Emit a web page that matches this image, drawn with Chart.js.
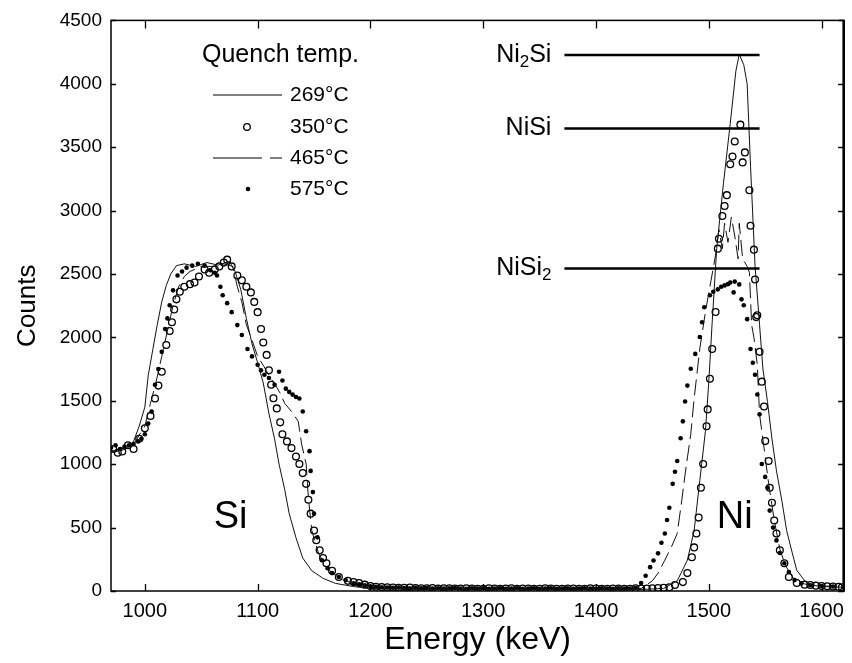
<!DOCTYPE html>
<html>
<head>
<meta charset="utf-8">
<script src="https://cdn.jsdelivr.net/npm/chart.js@4.4.1/dist/chart.umd.min.js"></script>
<style>
  body { margin: 0; background: #fff; }
  #wrap { width: 852px; height: 663px; }
</style>
</head>
<body>
<div id="wrap"><canvas id="rbs" width="852" height="663"></canvas></div>
<script>
// RBS spectra, [energy keV, counts]
const t269 = [
  [970,1110],[975,1100],[980,1120],[985,1130],[990,1180],[995,1300],[1000,1450],[1003,1700],[1007,1900],
  [1011,2100],[1015,2280],[1019,2410],[1023,2500],[1028,2566],[1035,2580],[1045,2560],[1055,2590],
  [1065,2570],[1075,2600],[1080,2520],[1085,2380],[1090,2150],[1095,1950],[1100,1800],[1105,1640],
  [1110,1400],[1115,1200],[1119,1000],[1124,800],[1128,610],[1134,420],[1140,260],[1148,160],[1158,100],
  [1169,60],[1185,35],[1200,20],[1250,15],[1300,12],[1350,12],[1400,12],[1440,12],[1460,20],[1472,80],
  [1481,243],[1487,477],[1492,869],[1497,1260],[1500,1650],[1503,2120],[1507,2700],[1513,3216],
  [1519,3685],[1524,4100],[1527,4233],[1531,4150],[1534,4000],[1537,3350],[1541,2566],[1545,2100],
  [1548,1750],[1552,1495],[1556,1200],[1560,947],[1565,700],[1569,477],[1574,300],[1578,164],
  [1585,80],[1591,47],[1600,35],[1620,30]
];

const t350 = [
  [972,1120],[976,1090],[980,1100],[985,1150],[990,1120],[995,1200],[1000,1283],[1005,1380],[1009,1518],
  [1012,1620],[1015,1729],[1019,1940],[1022,2050],[1024,2120],[1026,2220],[1028,2300],[1031,2360],
  [1035,2400],[1040,2420],[1044,2433],[1048,2480],[1053,2535],[1057,2510],[1062,2535],[1066,2560],
  [1070,2590],[1073,2613],[1077,2560],[1082,2488],[1086,2450],[1090,2400],[1094,2355],[1097,2280],
  [1100,2199],[1103,2066],[1105,1960],[1108,1862],[1110,1740],[1112,1627],[1114,1520],[1117,1440],
  [1120,1330],[1122,1236],[1126,1180],[1130,1127],[1134,1060],[1137,1001],[1140,930],[1143,845],
  [1145,720],[1147,610],[1150,477],[1152,400],[1155,321],[1158,260],[1161,219],[1166,160],[1172,110],
  [1180,80],[1185,70],[1190,63],[1195,50],[1200,40],[1205,34],[1210,32],[1215,30],[1220,28],[1225,26],
  [1230,25],[1235,27],[1240,24],[1245,22],[1250,22],[1255,24],[1260,20],[1265,22],[1270,21],[1275,19],
  [1280,19],[1285,22],[1290,20],[1295,18],[1300,18],[1305,21],[1310,20],[1315,17],[1320,19],[1325,22],
  [1330,17],[1335,19],[1340,20],[1345,18],[1350,18],[1355,21],[1360,19],[1365,17],[1370,17],[1375,20],
  [1380,20],[1385,18],[1390,18],[1395,21],[1400,19],[1405,17],[1410,17],[1415,20],[1420,20],[1425,18],
  [1430,18],[1435,21],[1440,20],[1445,19],[1450,22],[1455,24],[1460,25],
  [1465,30],[1470,47],[1477,70],[1481,141],[1485,266],[1487,344],[1489,454],[1491,579],[1493,814],
  [1495,1002],[1498,1299],[1499,1432],[1501,1674],[1503,1909],[1506,2200],[1508,2700],[1509,2778],
  [1512,2958],[1514,3036],[1516,3122],[1519,3365],[1521,3427],[1523,3545],[1528,3678],[1530,3380],
  [1532,3459],[1536,3161],[1537,2880],[1540,2692],[1541,2457],[1542,2160],[1543,2175],[1545,1886],
  [1547,1651],[1549,1455],[1550,1182],[1553,1025],[1554,814],[1556,696],[1558,556],[1560,454],
  [1563,321],[1567,219],[1571,110],[1578,63],[1585,50],[1590,47],[1595,42],[1600,40],[1605,38],
  [1610,35],[1615,33],[1618,30]
];

const t465 = [
  [970,1100],[980,1110],[990,1150],[995,1230],[1000,1300],[1005,1480],[1010,1650],[1015,1850],
  [1020,2050],[1025,2250],[1030,2400],[1035,2480],[1040,2520],[1050,2560],[1060,2560],[1070,2580],
  [1078,2560],[1082,2400],[1086,2280],[1090,2100],[1095,1980],[1100,1850],[1105,1780],[1110,1700],
  [1116,1620],[1120,1560],[1124,1480],[1130,1416],[1136,1338],[1139,1158],[1143,1001],[1145,735],
  [1148,477],[1154,297],[1160,200],[1166,141],[1175,90],[1185,60],[1200,35],[1250,20],[1300,15],
  [1350,15],[1400,15],[1440,20],[1450,80],[1455,141],[1461,243],[1467,350],[1472,454],[1476,712],
  [1479,923],[1484,1236],[1487,1518],[1492,1909],[1497,2200],[1502,2450],[1506,2650],[1509,2850],
  [1512,2700],[1514,2900],[1517,2750],[1520,2950],[1523,2800],[1526,2620],[1527,2900],[1530,2620],
  [1534,2560],[1536,2512],[1538,2097],[1540,2000],[1543,1784],[1545,1393],[1549,1127],[1553,850],
  [1558,560],[1563,330],[1568,200],[1575,100],[1585,55],[1600,40],[1620,35]
];

const t575 = [
  [970,1130],[974,1150],[978,1120],[982,1140],[986,1150],[990,1160],[994,1180],[997,1200],[1000,1236],
  [1003,1320],[1006,1416],[1009,1627],[1012,1750],[1015,1886],[1018,2066],[1020,2150],[1022,2253],
  [1025,2371],[1029,2488],[1033,2520],[1037,2550],[1042,2566],[1047,2580],[1053,2566],[1058,2530],
  [1062,2510],[1064,2488],[1067,2400],[1069,2332],[1073,2270],[1077,2199],[1082,2097],[1086,2019],
  [1091,1909],[1095,1850],[1100,1784],[1103,1740],[1106,1706],[1110,1680],[1115,1627],[1119,1729],
  [1122,1660],[1125,1596],[1128,1570],[1131,1549],[1134,1530],[1137,1518],[1140,1416],[1143,1260],
  [1146,1103],[1147,947],[1149,780],[1150,610],[1153,423],[1157,243],[1162,180],[1166,141],[1172,110],
  [1178,86],[1185,60],[1190,52],[1195,45],[1200,38],[1205,33],[1210,30],[1215,28],[1220,26],[1225,27],
  [1230,24],[1235,22],[1240,25],[1245,21],[1250,23],[1255,20],[1260,22],[1265,19],[1270,21],[1275,23],
  [1280,20],[1285,18],[1290,21],[1295,19],[1300,22],[1305,18],[1310,20],[1315,21],[1320,18],[1325,20],
  [1330,22],[1335,18],[1340,19],[1345,21],[1350,18],[1355,20],[1360,22],[1365,18],[1370,19],[1375,21],
  [1380,18],[1385,20],[1390,22],[1395,19],[1400,18],[1405,21],[1410,20],[1415,18],[1420,21],[1425,19],
  [1430,20],[1435,24],[1440,63],[1444,120],[1448,188],[1451,240],[1455,297],[1458,380],[1461,454],
  [1463,560],[1465,657],[1468,845],[1470,940],[1472,1025],[1475,1205],[1477,1338],[1479,1494],
  [1481,1620],[1484,1753],[1488,1870],[1492,2003],[1494,2120],[1496,2238],[1501,2332],[1504,2360],
  [1508,2379],[1511,2400],[1514,2410],[1517,2420],[1519,2433],[1523,2440],[1527,2418],[1522,2355],
  [1529,2300],[1531,2253],[1534,2144],[1537,1909],[1539,1800],[1541,1706],[1543,1550],[1545,1393],
  [1547,1002],[1550,900],[1552,814],[1554,634],[1557,500],[1560,399],[1563,300],[1567,219],[1571,150],
  [1576,86],[1582,60],[1590,45],[1600,40],[1610,35],[1620,30]
];

// silicide reference levels (counts) and the energy span of their marker lines
const phaseNames = [['Ni', '2', 'Si'], ['NiSi', '', ''], ['NiSi', '2', '']];
const phaseLevels = [4228, 3647, 2543];
const phaseSpan = [1372, 1545];

const xTickValues = [1000, 1100, 1200, 1300, 1400, 1500, 1600];
const yTickValues = [0, 500, 1000, 1500, 2000, 2500, 3000, 3500, 4000, 4500];

const seriesNames = ['269°C', '350°C', '465°C', '575°C'];
const peakNames = ['Si', 'Ni'];
const peakAt = [[1076, 500], [1523, 500]];

const FONT = "'Liberation Sans', Arial, Helvetica, sans-serif";
Chart.defaults.font.family = FONT;
Chart.defaults.color = '#000';

const toXY = arr => arr.map(p => ({ x: p[0], y: p[1] }));

const phaseSets = phaseLevels.map(v => ({
  data: [{ x: phaseSpan[0], y: v }, { x: phaseSpan[1], y: v }],
  showLine: true,
  borderColor: '#000',
  borderWidth: 2.5,
  pointRadius: 0
}));

// inward ticks + box
const frame = {
  id: 'frame',
  afterDatasetsDraw(chart) {
    const { ctx, chartArea: a, scales: { x, y } } = chart;
    ctx.save();
    ctx.strokeStyle = '#000';
    ctx.lineWidth = 1.5;
    ctx.strokeRect(a.left, a.top, a.right - a.left, a.bottom - a.top);
    ctx.lineWidth = 2.5;
    ctx.beginPath();
    ctx.moveTo(a.right - 0.5, a.top);
    ctx.lineTo(a.right - 0.5, a.bottom);
    ctx.stroke();
    ctx.lineWidth = 1.3;
    ctx.beginPath();
    xTickValues.forEach(v => {
      const px = Math.round(x.getPixelForValue(v)) + 0.5;
      ctx.moveTo(px, a.bottom); ctx.lineTo(px, a.bottom - 7);
      ctx.moveTo(px, a.top); ctx.lineTo(px, a.top + 8);
    });
    yTickValues.forEach(v => {
      const py = Math.round(y.getPixelForValue(v)) + 0.5;
      ctx.moveTo(a.left, py); ctx.lineTo(a.left + 5, py);
      ctx.moveTo(a.right, py); ctx.lineTo(a.right - 6, py);
    });
    ctx.stroke();
    ctx.restore();
  }
};

// text annotations and the hand-made legend
const notes = {
  id: 'notes',
  afterDatasetsDraw(chart) {
    const { ctx, scales: { x, y } } = chart;
    ctx.save();
    ctx.fillStyle = '#000';
    ctx.strokeStyle = '#000';
    ctx.textBaseline = 'middle';

    // phase labels, right-aligned before their lines
    const lineStart = x.getPixelForValue(phaseSpan[0]);
    phaseNames.forEach((parts, i) => {
      const py = y.getPixelForValue(phaseLevels[i]);
      ctx.font = '25px ' + FONT;
      const w0 = ctx.measureText(parts[0]).width;
      const w2 = ctx.measureText(parts[2]).width;
      ctx.font = '17px ' + FONT;
      const w1 = ctx.measureText(parts[1]).width;
      let px = lineStart - 13 - (w0 + w1 + w2);
      ctx.font = '25px ' + FONT;
      ctx.fillText(parts[0], px, py);
      px += w0;
      ctx.font = '17px ' + FONT;
      ctx.fillText(parts[1], px, py + 7);
      px += w1;
      ctx.font = '25px ' + FONT;
      ctx.fillText(parts[2], px, py);
    });

    // element labels
    ctx.font = '38px ' + FONT;
    ctx.textAlign = 'center';
    ctx.textBaseline = 'alphabetic';
    peakNames.forEach((t, i) => {
      ctx.fillText(t, x.getPixelForValue(peakAt[i][0]), y.getPixelForValue(peakAt[i][1]));
    });

    // legend
    ctx.textAlign = 'left';
    ctx.textBaseline = 'middle';
    ctx.font = '25px ' + FONT;
    ctx.fillText('Quench temp.', 202, 55);
    ctx.font = '21px ' + FONT;
    const rows = [95, 127, 158, 189];
    seriesNames.forEach((t, i) => ctx.fillText(t, 290, rows[i]));
    ctx.lineWidth = 1;
    ctx.beginPath();
    ctx.moveTo(213, rows[0]); ctx.lineTo(282, rows[0]);
    ctx.stroke();
    ctx.lineWidth = 1.3;
    ctx.beginPath();
    ctx.arc(247, rows[1], 3.3, 0, Math.PI * 2);
    ctx.stroke();
    ctx.lineWidth = 1;
    ctx.beginPath();
    ctx.moveTo(213, rows[2]); ctx.lineTo(262, rows[2]);
    ctx.moveTo(270, rows[2]); ctx.lineTo(282, rows[2]);
    ctx.stroke();
    ctx.beginPath();
    ctx.arc(248, rows[3], 2.3, 0, Math.PI * 2);
    ctx.fill();
    ctx.restore();
  }
};

const ctx = document.getElementById('rbs').getContext('2d');
const chart = new Chart(ctx, {
  type: 'scatter',
  data: {
    datasets: [
      ...phaseSets,
      {
        label: seriesNames[0],
        data: toXY(t269),
        showLine: true,
        borderColor: '#111',
        borderWidth: 1,
        pointRadius: 0
      },
      {
        label: seriesNames[2],
        data: toXY(t465),
        showLine: true,
        borderColor: '#111',
        borderWidth: 1,
        borderDash: [16, 6],
        pointRadius: 0
      },
      {
        label: seriesNames[1],
        data: toXY(t350),
        showLine: false,
        pointRadius: 3.4,
        pointBorderWidth: 1.3,
        pointBorderColor: '#000',
        pointBackgroundColor: 'rgba(255,255,255,0)'
      },
      {
        label: seriesNames[3],
        data: toXY(t575),
        showLine: false,
        pointRadius: 2.3,
        pointBorderWidth: 0,
        pointBackgroundColor: '#000'
      }
    ]
  },
  options: {
    responsive: false,
    animation: false,
    layout: { padding: { top: 16, right: 3, left: 0, bottom: 0 } },
    plugins: {
      legend: { display: false },
      tooltip: { enabled: false }
    },
    scales: {
      x: {
        type: 'linear',
        min: 970,
        max: 1620,
        afterBuildTicks: s => { s.ticks = xTickValues.map(v => ({ value: v })); },
        afterFit: s => { s.height = 72; },
        grid: { drawOnChartArea: false, drawTicks: false },
        border: { display: false },
        ticks: { padding: 8, font: { size: 20 }, color: '#000', maxRotation: 0, callback: v => String(v) },
        title: { display: true, text: 'Energy (keV)', font: { size: 32 }, padding: { top: 0, bottom: 4 }, color: '#000' }
      },
      y: {
        type: 'linear',
        min: 0,
        max: 4500,
        afterBuildTicks: s => { s.ticks = yTickValues.map(v => ({ value: v })); },
        afterFit: s => { s.width = 111; },
        grid: { drawOnChartArea: false, drawTicks: false },
        border: { display: false },
        ticks: { padding: 9, font: { size: 19 }, color: '#000', callback: v => String(v) },
        title: { display: true, text: 'Counts', font: { size: 26 }, padding: { top: 12, bottom: 0 }, color: '#000' }
      }
    }
  },
  plugins: [frame, notes]
});
</script>
</body>
</html>
